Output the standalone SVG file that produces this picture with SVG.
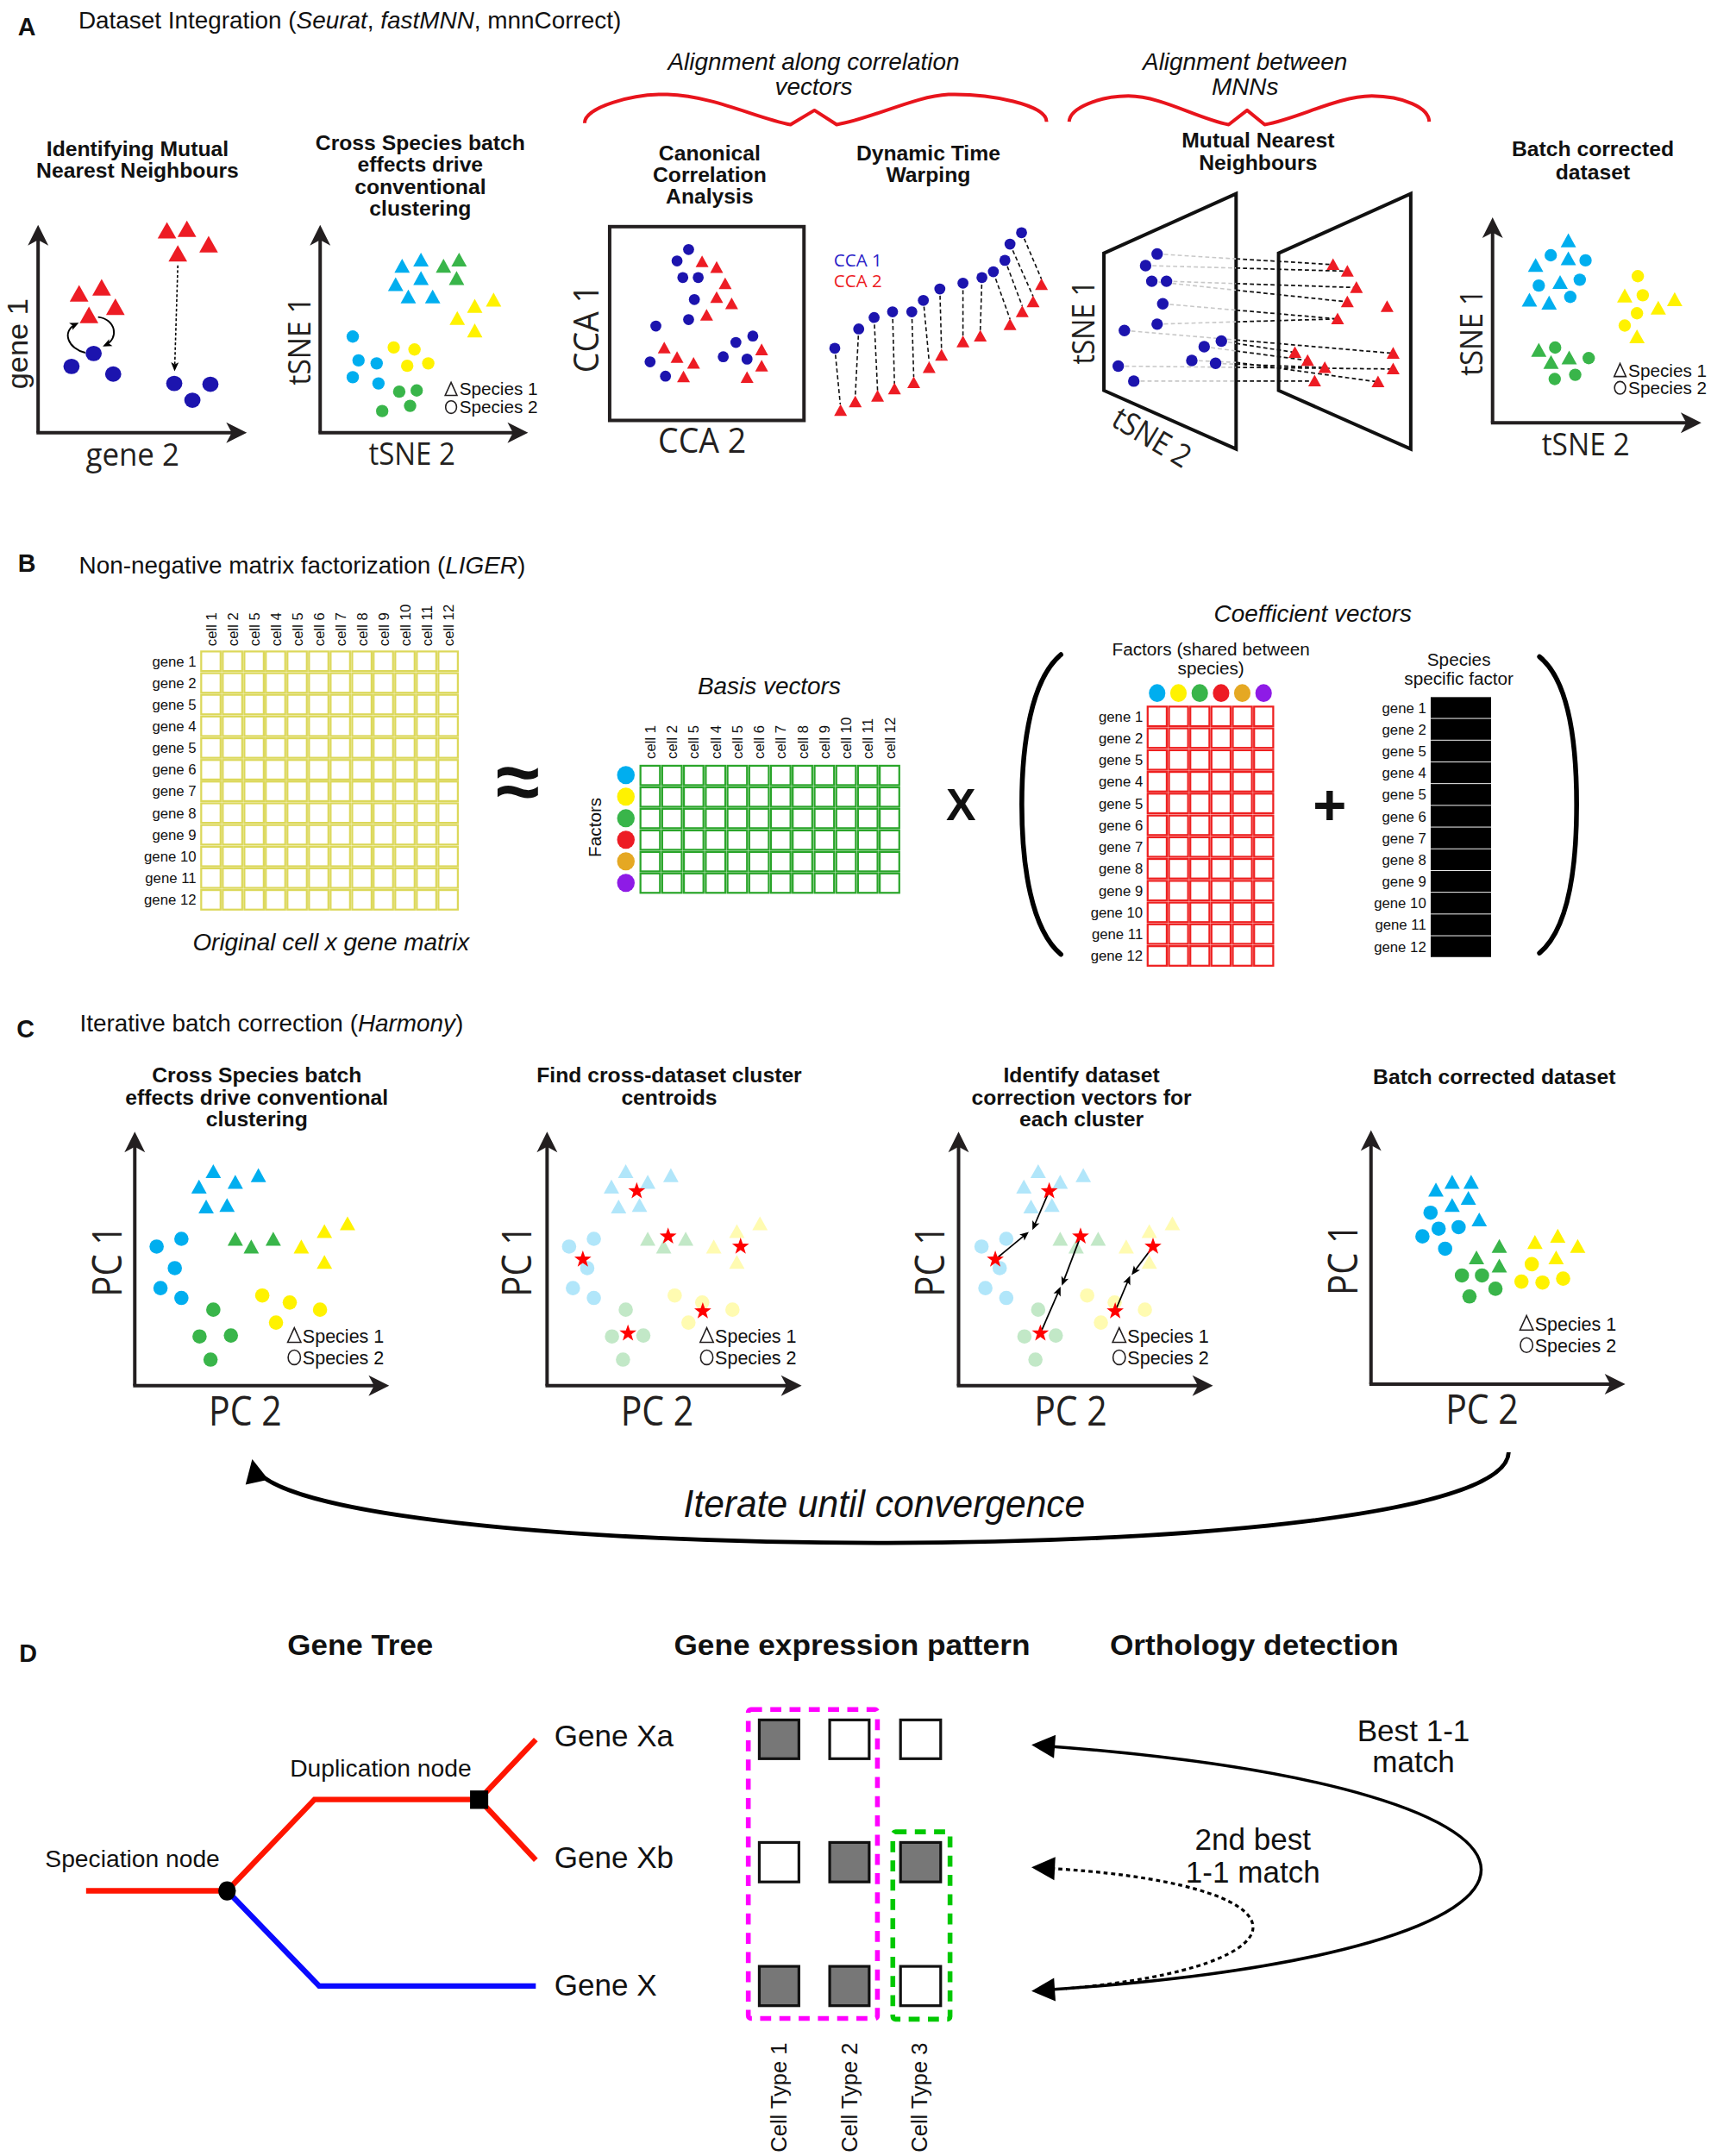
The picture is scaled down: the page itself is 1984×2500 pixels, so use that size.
<svg xmlns="http://www.w3.org/2000/svg" width="1984" height="2500" viewBox="0 0 1984 2500">
<style>
text{font-family:"Liberation Sans",Arial,sans-serif;fill:#111}
.lt{font-size:18px;font-weight:bold}
.hd{font-size:17.5px}
.it{font-style:italic}
.pt{font-size:15.5px;font-weight:bold;text-anchor:middle}
.ax{font-family:"Open Sans","Liberation Sans",sans-serif;font-size:23px;text-anchor:middle;fill:#231f20}
.pc{font-family:"Open Sans","Liberation Sans",sans-serif;font-size:30px;text-anchor:middle;fill:#231f20}
.lg{font-size:13.5px}
.sm{font-size:10.5px}
.md{font-size:13px}
.axis{stroke:#231f20;stroke-width:2.5;fill:none;marker-end:url(#ah)}
.cb{fill:#00aeef}.cg{fill:#39b54a}.cy{fill:#fff200}.cr{fill:#ed1c24}.cd{fill:#1c14ae}.co{fill:#e5a823}.cp{fill:#8e1be6}
.lgs{fill:none;stroke:#231f20;stroke-width:1}
.dtw{stroke:#111;stroke-width:1;stroke-dasharray:3 2;fill:none}
.gry{stroke:#c8c8c8;stroke-width:1;stroke-dasharray:3 2;fill:none}
.blk{stroke:#111;stroke-width:1.1;stroke-dasharray:3 2;fill:none}
.brace{fill:none;stroke:#e8141c;stroke-width:2.5;stroke-linejoin:round}
.ycell{fill:#fff;stroke:#dcd85a;stroke-width:1.4}
.gcell{fill:#fff;stroke:#2aa52a;stroke-width:1.4}
.rcell{fill:#fff;stroke:#ee2020;stroke-width:1.4}
.bcell{fill:#000}
.br{fill:none;stroke:#000;stroke-width:3.5;stroke-linecap:round}
.vec{stroke:#000;stroke-width:1.1;fill:none;marker-end:url(#sa)}
.box{stroke:#111;stroke-width:2}
.dh{font-size:21px;font-weight:bold;text-anchor:middle}
</style>
<defs>
<marker id="ah" markerUnits="userSpaceOnUse" viewBox="-12 -9 17 18" markerWidth="17" markerHeight="18" refX="0" refY="0" orient="auto"><path d="M4,0 L-11,-7.5 L-7,0 L-11,7.5Z" fill="#231f20"/></marker>
<marker id="sa" markerUnits="userSpaceOnUse" viewBox="-6 -4 9 8" markerWidth="9" markerHeight="8" refX="0" refY="0" orient="auto"><path d="M2,0 L-4.5,-2.8 L-3,0 L-4.5,2.8Z" fill="#000"/></marker>
<marker id="ba" markerUnits="userSpaceOnUse" viewBox="-16 -10 21 20" markerWidth="21" markerHeight="20" refX="0" refY="0" orient="auto-start-reverse"><path d="M3,0 L-14,-8.5 L-14,8.5Z" fill="#000"/></marker>
<path id="tA" d="M0,-6.5 L6.8,5.5 L-6.8,5.5Z"/>
<path id="tB" d="M0,-5.5 L5.6,4.6 L-5.6,4.6Z"/>
<path id="tC" d="M0,-4.6 L4.7,3.9 L-4.7,3.9Z"/>
<path id="st" d="M0,-6.5 L1.53,-2.1 L6.18,-2.01 L2.47,0.8 L3.82,5.26 L0,2.6 L-3.82,5.26 L-2.47,0.8 L-6.18,-2.01 L-1.53,-2.1Z" fill="#ff0000"/>
<g id="yrow">
<rect class="ycell" x="146.3" y="0" width="14.1" height="14.2"/><rect class="ycell" x="162" y="0" width="14.1" height="14.2"/><rect class="ycell" x="177.7" y="0" width="14.1" height="14.2"/><rect class="ycell" x="193.3" y="0" width="14.1" height="14.2"/><rect class="ycell" x="209" y="0" width="14.1" height="14.2"/><rect class="ycell" x="224.7" y="0" width="14.1" height="14.2"/><rect class="ycell" x="240.4" y="0" width="14.1" height="14.2"/><rect class="ycell" x="256.1" y="0" width="14.1" height="14.2"/><rect class="ycell" x="271.7" y="0" width="14.1" height="14.2"/><rect class="ycell" x="287.4" y="0" width="14.1" height="14.2"/><rect class="ycell" x="303.1" y="0" width="14.1" height="14.2"/><rect class="ycell" x="318.8" y="0" width="14.1" height="14.2"/>
</g>
<g id="grow">
<rect class="gcell" x="465.7" y="0" width="14.2" height="14.1"/><rect class="gcell" x="481.5" y="0" width="14.2" height="14.1"/><rect class="gcell" x="497.3" y="0" width="14.2" height="14.1"/><rect class="gcell" x="513.2" y="0" width="14.2" height="14.1"/><rect class="gcell" x="529" y="0" width="14.2" height="14.1"/><rect class="gcell" x="544.8" y="0" width="14.2" height="14.1"/><rect class="gcell" x="560.6" y="0" width="14.2" height="14.1"/><rect class="gcell" x="576.4" y="0" width="14.2" height="14.1"/><rect class="gcell" x="592.3" y="0" width="14.2" height="14.1"/><rect class="gcell" x="608.1" y="0" width="14.2" height="14.1"/><rect class="gcell" x="623.9" y="0" width="14.2" height="14.1"/><rect class="gcell" x="639.7" y="0" width="14.2" height="14.1"/>
</g>
<g id="rrow">
<rect class="rcell" x="834.5" y="0" width="13.9" height="14.2"/><rect class="rcell" x="850" y="0" width="13.9" height="14.2"/><rect class="rcell" x="865.5" y="0" width="13.9" height="14.2"/><rect class="rcell" x="880.9" y="0" width="13.9" height="14.2"/><rect class="rcell" x="896.4" y="0" width="13.9" height="14.2"/><rect class="rcell" x="911.9" y="0" width="13.9" height="14.2"/>
</g>
<g id="cpts">
<use href="#tB" class="cb" x="155.1" y="852"/><use href="#tB" class="cb" x="187.9" y="854.9"/><use href="#tB" class="cb" x="144.7" y="863.2"/><use href="#tB" class="cb" x="171.1" y="859.8"/><use href="#tB" class="cb" x="149.9" y="877.7"/><use href="#tB" class="cb" x="165.1" y="876.6"/>
<circle class="cb" cx="113.9" cy="906.4" r="5.2"/><circle class="cb" cx="131.9" cy="900.8" r="5.2"/><circle class="cb" cx="127.1" cy="922.1" r="5.2"/><circle class="cb" cx="116.7" cy="936.6" r="5.2"/><circle class="cb" cx="131.9" cy="943.8" r="5.2"/>
<use href="#tB" class="cg" x="171.1" y="901.2"/><use href="#tB" class="cg" x="182.7" y="906.8"/><use href="#tB" class="cg" x="198.7" y="901.2"/>
<use href="#tB" class="cy" x="219.1" y="906.8"/><use href="#tB" class="cy" x="235.9" y="895.6"/><use href="#tB" class="cy" x="252.7" y="890"/><use href="#tB" class="cy" x="235.9" y="918"/>
<circle class="cg" cx="155.1" cy="952.3" r="5.2"/><circle class="cg" cx="145.1" cy="971.8" r="5.2"/><circle class="cg" cx="167.9" cy="971.1" r="5.2"/><circle class="cg" cx="153.1" cy="988.6" r="5.2"/>
<circle class="cy" cx="190.7" cy="942" r="5.2"/><circle class="cy" cx="210.7" cy="947.1" r="5.2"/><circle class="cy" cx="232.7" cy="952.3" r="5.2"/><circle class="cy" cx="200.7" cy="961.7" r="5.2"/>
</g>
<g id="cleg">
<path class="lgs" d="M214,965.5 L218.8,976 L209.2,976Z"/><ellipse class="lgs" cx="214" cy="987" rx="4.5" ry="5.3"/>
<text class="lg" x="220" y="976.5">Species 1</text><text class="lg" x="220" y="992.2">Species 2</text>
</g>
</defs>

<g transform="scale(1.5947)">

<!-- ============ SECTION A ============ -->
<g id="sectionA">
<text class="lt" x="13" y="25.7">A</text>
<text class="hd" x="57" y="20.5">Dataset Integration (<tspan class="it">Seurat</tspan>, <tspan class="it">fastMNN</tspan>, mnnCorrect)</text>
<text class="hd it" x="591.6" y="51" text-anchor="middle">Alignment along correlation</text>
<text class="hd it" x="591.6" y="68.7" text-anchor="middle">vectors</text>
<path class="brace" d="M425.1,89.5 C425,78 460,68 485.3,68.7 C520,70 550,86 574.8,90.6 L592.2,80.2 L608.4,90.6 C635,86 665,70 689.6,68.7 C720,68 761,76 761,88.5"/>
<text class="hd it" x="905.3" y="51" text-anchor="middle">Alignment between</text>
<text class="hd it" x="905.3" y="68.7" text-anchor="middle">MNNs</text>
<path class="brace" d="M777.4,88.5 C778,78 800,70 820.5,69.8 C845,70 870,86 893.4,90.6 L906.8,80.2 L919.6,90.6 C945,86 972,70 997.5,69.8 C1020,70 1039,78 1039.2,88.5"/>
</g>

<g id="panelA1">
<text class="pt" x="100" y="113.6">Identifying Mutual</text>
<text class="pt" x="100" y="129.3">Nearest Neighbours</text>
<line class="axis" x1="27.7" y1="314.6" x2="27.7" y2="167.5"/>
<line class="axis" x1="26.5" y1="314.6" x2="175.5" y2="314.6"/>
<text transform="translate(13,250) rotate(-90)" y="7" text-anchor="middle" style="font-size:21px;fill:#231f20" textLength="66" lengthAdjust="spacingAndGlyphs">gene 1</text>
<text class="ax" x="96.4" y="338.5" textLength="68" lengthAdjust="spacingAndGlyphs">gene 2</text>
<use href="#tA" class="cr" x="57.5" y="213.8"/><use href="#tA" class="cr" x="73.9" y="209.4"/><use href="#tA" class="cr" x="83.9" y="223.5"/><use href="#tA" class="cr" x="64.7" y="229.5"/>
<use href="#tA" class="cr" x="121.4" y="167.9"/><use href="#tA" class="cr" x="135.9" y="166.8"/><use href="#tA" class="cr" x="151.7" y="178"/><use href="#tA" class="cr" x="129.3" y="184.7"/>
<ellipse class="cd" cx="68.1" cy="257" rx="5.9" ry="5.6"/><ellipse class="cd" cx="52" cy="266.4" rx="5.9" ry="5.6"/><ellipse class="cd" cx="82.3" cy="272" rx="5.9" ry="5.6"/>
<ellipse class="cd" cx="126.7" cy="278.8" rx="5.9" ry="5.6"/><ellipse class="cd" cx="153" cy="279.4" rx="5.9" ry="5.6"/><ellipse class="cd" cx="139.9" cy="291" rx="5.9" ry="5.6"/>
<path d="M62,256.5 C50,254 44,241 55.5,235.5" fill="none" stroke="#000" stroke-width="1.2" marker-end="url(#sa)"/>
<path d="M71.3,230.5 C84,232 87,246 76.5,251" fill="none" stroke="#000" stroke-width="1.2" marker-end="url(#sa)"/>
<path d="M129.3,193 L127,268" fill="none" stroke="#000" stroke-width="1" stroke-dasharray="2 1.5" marker-end="url(#sa)"/>
</g>

<g id="panelA2">
<text class="pt" x="305.6" y="109">Cross Species batch</text>
<text class="pt" x="305.6" y="125">effects drive</text>
<text class="pt" x="305.6" y="141">conventional</text>
<text class="pt" x="305.6" y="157">clustering</text>
<line class="axis" x1="232.8" y1="314.6" x2="232.8" y2="167.5"/>
<line class="axis" x1="231.6" y1="314.6" x2="380" y2="314.6"/>
<text class="ax" transform="translate(218,248) rotate(-90)" y="8" textLength="64" lengthAdjust="spacingAndGlyphs">tSNE 1</text>
<text class="ax" x="299.5" y="338" textLength="63" lengthAdjust="spacingAndGlyphs">tSNE 2</text>
<use href="#tB" class="cb" x="292.4" y="193.7"/><use href="#tB" class="cb" x="306.1" y="189.2"/><use href="#tB" class="cb" x="306.1" y="202.6"/><use href="#tB" class="cb" x="287.7" y="207.1"/><use href="#tB" class="cb" x="296.9" y="216"/><use href="#tB" class="cb" x="314.6" y="216"/>
<use href="#tB" class="cg" x="322.5" y="193.7"/><use href="#tB" class="cg" x="333.8" y="189.2"/><use href="#tB" class="cg" x="332" y="202.6"/>
<use href="#tB" class="cy" x="345.2" y="222.8"/><use href="#tB" class="cy" x="358.9" y="218.3"/><use href="#tB" class="cy" x="332.5" y="231.7"/><use href="#tB" class="cy" x="345.2" y="240.7"/>
<circle class="cb" cx="256.5" cy="244.7" r="4.5"/><circle class="cb" cx="260.7" cy="262" r="4.5"/><circle class="cb" cx="273.9" cy="264.2" r="4.5"/><circle class="cb" cx="256.5" cy="274.3" r="4.5"/><circle class="cb" cx="275.2" cy="278.8" r="4.5"/>
<circle class="cy" cx="286.3" cy="252.6" r="4.5"/><circle class="cy" cx="301.4" cy="254.1" r="4.5"/><circle class="cy" cx="296.1" cy="266" r="4.5"/><circle class="cy" cx="311.4" cy="264.2" r="4.5"/>
<circle class="cg" cx="290.3" cy="284.8" r="4.5"/><circle class="cg" cx="303" cy="283.9" r="4.5"/><circle class="cg" cx="298.2" cy="295.1" r="4.5"/><circle class="cg" cx="277.9" cy="298.9" r="4.5"/>
<path class="lgs" d="M328,278 L332.3,287.5 L323.7,287.5Z"/><ellipse class="lgs" cx="328" cy="296" rx="4" ry="4.6"/>
<text class="md" x="334" y="287.5">Species 1</text><text class="md" x="334" y="300.5">Species 2</text>
</g>

<g id="panelCCA">
<text class="pt" x="516" y="116.4">Canonical</text>
<text class="pt" x="516" y="132.4">Correlation</text>
<text class="pt" x="516" y="148.2">Analysis</text>
<rect x="443.3" y="164.8" width="141.3" height="140.9" fill="none" stroke="#231f20" stroke-width="2.5"/>
<text class="ax" style="font-size:25px" transform="translate(426.5,239) rotate(-90)" y="9" textLength="64" lengthAdjust="spacingAndGlyphs">CCA 1</text>
<text class="ax" style="font-size:25px" x="510.5" y="329" textLength="64" lengthAdjust="spacingAndGlyphs">CCA 2</text>
<circle class="cd" cx="500.7" cy="181.4" r="4"/><circle class="cd" cx="492.3" cy="189.7" r="4"/><circle class="cd" cx="496.5" cy="201.8" r="4"/><circle class="cd" cx="507.7" cy="201.8" r="4"/><circle class="cd" cx="504.9" cy="217.8" r="4"/><circle class="cd" cx="500.7" cy="232.4" r="4"/><circle class="cd" cx="476.9" cy="237.1" r="4"/><circle class="cd" cx="472.7" cy="263.1" r="4"/><circle class="cd" cx="483.9" cy="273.5" r="4"/><circle class="cd" cx="535.1" cy="249" r="4"/><circle class="cd" cx="547.4" cy="244.4" r="4"/><circle class="cd" cx="525.9" cy="259.4" r="4"/><circle class="cd" cx="543.2" cy="261.1" r="4"/>
<use href="#tC" class="cr" x="510.5" y="190.4"/><use href="#tC" class="cr" x="521.1" y="194.5"/><use href="#tC" class="cr" x="527.3" y="206.4"/><use href="#tC" class="cr" x="521.1" y="216.4"/><use href="#tC" class="cr" x="532" y="220.9"/><use href="#tC" class="cr" x="513.8" y="229.2"/><use href="#tC" class="cr" x="483" y="253.1"/><use href="#tC" class="cr" x="492.3" y="260"/><use href="#tC" class="cr" x="504.3" y="264.2"/><use href="#tC" class="cr" x="497" y="274.1"/><use href="#tC" class="cr" x="553.8" y="254.4"/><use href="#tC" class="cr" x="553.8" y="266.2"/><use href="#tC" class="cr" x="543.2" y="274.6"/>
</g>

<g id="panelDTW">
<text class="pt" x="675" y="116.4">Dynamic Time</text>
<text class="pt" x="675" y="132.4">Warping</text>
<text x="623.8" y="194" text-anchor="middle" style="font-family:'Open Sans',sans-serif;font-size:12.5px;fill:#2a22c8" textLength="35" lengthAdjust="spacingAndGlyphs">CCA 1</text>
<text x="623.8" y="208.6" text-anchor="middle" style="font-family:'Open Sans',sans-serif;font-size:12.5px;fill:#ed1c24" textLength="35" lengthAdjust="spacingAndGlyphs">CCA 2</text>
<path class="dtw" d="M607,253 L611,294 M624.4,239 L621.9,288 M635.6,231 L638.1,284 M649,227 L650.4,279 M663,227 L664.4,274 M671.4,218 L675.6,263 M683.4,210 L684.6,254 M700.2,206 L700.2,244.5 M714,202 L712.8,240 M722.3,198 L734.4,232 M730.7,189 L743.3,222.5 M734.4,177.5 L751.2,215.5 M742.8,169 L757.3,203"/>
<circle class="cd" cx="607" cy="253.2" r="4"/><circle class="cd" cx="624.4" cy="239.2" r="4"/><circle class="cd" cx="635.6" cy="230.9" r="4"/><circle class="cd" cx="649" cy="226.7" r="4"/><circle class="cd" cx="663" cy="226.7" r="4"/><circle class="cd" cx="671.4" cy="218.4" r="4"/><circle class="cd" cx="683.4" cy="210.1" r="4"/><circle class="cd" cx="700.2" cy="205.9" r="4"/><circle class="cd" cx="714" cy="201.8" r="4"/><circle class="cd" cx="722.3" cy="197.6" r="4"/><circle class="cd" cx="730.7" cy="189.3" r="4"/><circle class="cd" cx="734.4" cy="177.5" r="4"/><circle class="cd" cx="742.8" cy="169.2" r="4"/>
<use href="#tC" class="cr" x="611.2" y="298.5"/><use href="#tC" class="cr" x="621.9" y="292.2"/><use href="#tC" class="cr" x="638.1" y="288.1"/><use href="#tC" class="cr" x="650.4" y="282.9"/><use href="#tC" class="cr" x="664.4" y="278.3"/><use href="#tC" class="cr" x="675.6" y="267.3"/><use href="#tC" class="cr" x="684.6" y="258.3"/><use href="#tC" class="cr" x="700.2" y="248.6"/><use href="#tC" class="cr" x="712.8" y="244.4"/><use href="#tC" class="cr" x="734.4" y="236.1"/><use href="#tC" class="cr" x="743.3" y="226.7"/><use href="#tC" class="cr" x="751.2" y="219.5"/><use href="#tC" class="cr" x="757.3" y="207"/>
</g>

<g id="panelMNN">
<text class="pt" x="914.8" y="107.4">Mutual Nearest</text>
<text class="pt" x="914.8" y="123.6">Neighbours</text>
<path d="M802.7,184.1 L898.8,140.9 L898.8,326.5 L802.7,283.9Z" fill="none" stroke="#111" stroke-width="2.5"/>
<path d="M929.7,184.1 L1025.8,140.9 L1025.8,326.5 L929.7,283.9Z" fill="none" stroke="#111" stroke-width="2.5"/>
<path class="gry" d="M841.4,184.7 L898.8,188.2 M833,193.1 L898.8,194.9 M848.2,204.5 L898.8,206.2 M837.5,204.5 L898.8,211 M845.5,220.9 L898.8,225.5 M841.4,235.7 L898.8,234 M817.6,240.3 L898.8,247.2 M888.1,248 L898.8,249.7 M875.6,252.1 L898.8,255.2 M883.9,264.2 L898.8,264.8 M866.6,262.1 L898.8,263.5 M813.1,266.2 L898.8,267.1 M824.4,277.1 L898.8,277.1"/>
<path class="blk" d="M898.8,188.2 L969.3,192.4 M898.8,194.9 L979.7,197.2 M898.8,206.2 L986.3,209.1 M898.8,211 L979.7,219.5 M898.8,225.5 L972.6,231.9 M898.8,234 L972.6,231.9 M898.8,247.2 L1013,256.9 M898.8,249.7 L941.6,256.3 M898.8,255.2 L950.8,262.1 M898.8,264.8 L963.3,267.3 M898.8,263.5 L1002,277.7 M898.8,267.1 L1013,268.3 M898.8,277.1 L955.9,277.1"/>
<circle class="cd" cx="841.4" cy="184.7" r="4.2"/><circle class="cd" cx="833" cy="193.1" r="4.2"/><circle class="cd" cx="837.5" cy="204.5" r="4.2"/><circle class="cd" cx="848.2" cy="204.5" r="4.2"/><circle class="cd" cx="845.5" cy="220.9" r="4.2"/><circle class="cd" cx="841.4" cy="235.7" r="4.2"/><circle class="cd" cx="817.6" cy="240.3" r="4.2"/><circle class="cd" cx="888.1" cy="248" r="4.2"/><circle class="cd" cx="875.6" cy="252.1" r="4.2"/><circle class="cd" cx="866.6" cy="262.1" r="4.2"/><circle class="cd" cx="883.9" cy="264.2" r="4.2"/><circle class="cd" cx="813.1" cy="266.2" r="4.2"/><circle class="cd" cx="824.4" cy="277.1" r="4.2"/>
<use href="#tC" class="cr" x="969.3" y="192.4"/><use href="#tC" class="cr" x="979.7" y="197.2"/><use href="#tC" class="cr" x="986.3" y="209.1"/><use href="#tC" class="cr" x="979.7" y="219.5"/><use href="#tC" class="cr" x="1008.6" y="223"/><use href="#tC" class="cr" x="972.6" y="231.9"/><use href="#tC" class="cr" x="941.6" y="256.3"/><use href="#tC" class="cr" x="950.8" y="262.1"/><use href="#tC" class="cr" x="963.3" y="267.3"/><use href="#tC" class="cr" x="1013" y="256.9"/><use href="#tC" class="cr" x="1013" y="268.3"/><use href="#tC" class="cr" x="955.9" y="277.1"/><use href="#tC" class="cr" x="1002" y="277.7"/>
<text class="ax" transform="translate(787.9,234.5) rotate(-90)" y="8" textLength="61" lengthAdjust="spacingAndGlyphs">tSNE 1</text>
<text class="ax" transform="translate(837.6,318) rotate(31)" y="8" textLength="62" lengthAdjust="spacingAndGlyphs">tSNE 2</text>
</g>

<g id="panelA4">
<text class="pt" x="1158.2" y="113.7">Batch corrected</text>
<text class="pt" x="1158.2" y="130.3">dataset</text>
<line class="axis" x1="1085.3" y1="307.4" x2="1085.3" y2="162.1"/>
<line class="axis" x1="1084.1" y1="307.4" x2="1233.1" y2="307.4"/>
<text class="ax" transform="translate(1069.7,241.8) rotate(-90)" y="8" textLength="63" lengthAdjust="spacingAndGlyphs">tSNE 1</text>
<text class="ax" x="1153" y="331" textLength="64" lengthAdjust="spacingAndGlyphs">tSNE 2</text>
<use href="#tB" class="cb" x="1140.4" y="175.2"/><use href="#tB" class="cb" x="1140.4" y="188.3"/><use href="#tB" class="cb" x="1116.6" y="193.1"/><use href="#tB" class="cb" x="1134.4" y="205.5"/><use href="#tB" class="cb" x="1112.1" y="218.4"/><use href="#tB" class="cb" x="1126.4" y="220.5"/>
<circle class="cb" cx="1127.6" cy="185.6" r="4.5"/><circle class="cb" cx="1152.9" cy="189.3" r="4.5"/><circle class="cb" cx="1148.7" cy="203.4" r="4.5"/><circle class="cb" cx="1118.9" cy="207.6" r="4.5"/><circle class="cb" cx="1141.8" cy="215.9" r="4.5"/>
<circle class="cy" cx="1190.9" cy="200.8" r="4.5"/><circle class="cy" cx="1194.5" cy="214.7" r="4.5"/><circle class="cy" cx="1190.3" cy="227.8" r="4.5"/><circle class="cy" cx="1181.4" cy="236.7" r="4.5"/>
<use href="#tB" class="cy" x="1181.4" y="215.3"/><use href="#tB" class="cy" x="1205.8" y="224.2"/><use href="#tB" class="cy" x="1217.7" y="218"/><use href="#tB" class="cy" x="1190.3" y="245"/>
<use href="#tB" class="cg" x="1118.9" y="254.8"/><use href="#tB" class="cg" x="1127.8" y="263.7"/><use href="#tB" class="cg" x="1141" y="260.4"/>
<circle class="cg" cx="1130.8" cy="252.7" r="4.5"/><circle class="cg" cx="1155.2" cy="260.4" r="4.5"/><circle class="cg" cx="1130.5" cy="275.6" r="4.5"/><circle class="cg" cx="1145.4" cy="272.5" r="4.5"/>
<path class="lgs" d="M1178,264.3 L1182.3,273.8 L1173.7,273.8Z"/><ellipse class="lgs" cx="1178" cy="282" rx="4" ry="4.6"/>
<text class="md" x="1184" y="274">Species 1</text><text class="md" x="1184" y="286.5">Species 2</text>
</g>

<!-- ============ SECTION B ============ -->
<g id="sectionB">
<text class="lt" x="13" y="415.7">B</text>
<text class="hd" x="57.4" y="416.8">Non-negative matrix factorization (<tspan class="it">LIGER</tspan>)</text>
</g>

<g id="matrixOriginal">
<use href="#yrow" y="473.7"/><use href="#yrow" y="489.5"/><use href="#yrow" y="505.2"/><use href="#yrow" y="521"/><use href="#yrow" y="536.8"/><use href="#yrow" y="552.6"/><use href="#yrow" y="568.3"/><use href="#yrow" y="584.1"/><use href="#yrow" y="599.9"/><use href="#yrow" y="615.7"/><use href="#yrow" y="631.4"/><use href="#yrow" y="647.2"/>
<text class="sm" text-anchor="end"><tspan x="142.7" y="484.5">gene 1</tspan><tspan x="142.7" y="500.3">gene 2</tspan><tspan x="142.7" y="516">gene 5</tspan><tspan x="142.7" y="531.8">gene 4</tspan><tspan x="142.7" y="547.6">gene 5</tspan><tspan x="142.7" y="563.4">gene 6</tspan><tspan x="142.7" y="579.1">gene 7</tspan><tspan x="142.7" y="594.9">gene 8</tspan><tspan x="142.7" y="610.7">gene 9</tspan><tspan x="142.7" y="626.5">gene 10</tspan><tspan x="142.7" y="642.2">gene 11</tspan><tspan x="142.7" y="658">gene 12</tspan></text>
<text class="sm" transform="rotate(-90)"><tspan x="-469.8" y="157.1">cell 1</tspan><tspan x="-469.8" y="172.8">cell 2</tspan><tspan x="-469.8" y="188.5">cell 5</tspan><tspan x="-469.8" y="204.2">cell 4</tspan><tspan x="-469.8" y="219.9">cell 5</tspan><tspan x="-469.8" y="235.5">cell 6</tspan><tspan x="-469.8" y="251.2">cell 7</tspan><tspan x="-469.8" y="266.9">cell 8</tspan><tspan x="-469.8" y="282.6">cell 9</tspan><tspan x="-469.8" y="298.3">cell 10</tspan><tspan x="-469.8" y="314">cell 11</tspan><tspan x="-469.8" y="329.6">cell 12</tspan></text>
<text class="hd it" x="240.7" y="691" text-anchor="middle">Original cell x gene matrix</text>
</g>

<text id="approx" x="376.5" y="588" text-anchor="middle" style="font-size:58px;font-weight:bold">≈</text>

<g id="matrixBasis">
<text class="hd it" x="559.3" y="504.5" text-anchor="middle">Basis vectors</text>
<use href="#grow" y="556.8"/><use href="#grow" y="572.5"/><use href="#grow" y="588.1"/><use href="#grow" y="603.8"/><use href="#grow" y="619.5"/><use href="#grow" y="635.1"/>
<text class="sm" transform="rotate(-90)"><tspan x="-551.8" y="476.6">cell 1</tspan><tspan x="-551.8" y="492.4">cell 2</tspan><tspan x="-551.8" y="508.2">cell 5</tspan><tspan x="-551.8" y="524.1">cell 4</tspan><tspan x="-551.8" y="539.9">cell 5</tspan><tspan x="-551.8" y="555.7">cell 6</tspan><tspan x="-551.8" y="571.5">cell 7</tspan><tspan x="-551.8" y="587.3">cell 8</tspan><tspan x="-551.8" y="603.1">cell 9</tspan><tspan x="-551.8" y="619">cell 10</tspan><tspan x="-551.8" y="634.8">cell 11</tspan><tspan x="-551.8" y="650.6">cell 12</tspan></text>
<ellipse class="cb" cx="455.1" cy="563.6" rx="6.4" ry="6.6"/><ellipse class="cy" cx="455.1" cy="579.3" rx="6.4" ry="6.6"/><ellipse class="cg" cx="455.1" cy="595" rx="6.4" ry="6.6"/><ellipse class="cr" cx="455.1" cy="610.6" rx="6.4" ry="6.6"/><ellipse class="co" cx="455.1" cy="626.3" rx="6.4" ry="6.6"/><ellipse class="cp" cx="455.1" cy="642" rx="6.4" ry="6.6"/>
<text class="md" transform="translate(432.3,601.6) rotate(-90)" y="4.5" text-anchor="middle">Factors</text>
</g>

<text id="times" x="698.8" y="596.4" text-anchor="middle" style="font-size:32.5px;font-weight:bold">X</text>

<g id="coefficient">
<text class="hd it" x="954.6" y="452.3" text-anchor="middle">Coefficient vectors</text>
<path class="br" d="M771.4,476 C750,494 743,540 743,585 C743,630 750,676 771.4,694"/>
<path class="br" d="M1119.4,477.5 C1141,495 1146.4,540 1146.4,585 C1146.4,630 1141,675 1119.4,693"/>
<text class="md" x="880.5" y="476.7" text-anchor="middle">Factors (shared between</text>
<text class="md" x="880.5" y="490.3" text-anchor="middle">species)</text>
<ellipse class="cb" cx="841.4" cy="504" rx="6" ry="6.5"/><ellipse class="cy" cx="856.9" cy="504" rx="6" ry="6.5"/><ellipse class="cg" cx="872.4" cy="504" rx="6" ry="6.5"/><ellipse class="cr" cx="887.9" cy="504" rx="6" ry="6.5"/><ellipse class="co" cx="903.3" cy="504" rx="6" ry="6.5"/><ellipse class="cp" cx="918.8" cy="504" rx="6" ry="6.5"/>
<use href="#rrow" y="513.8"/><use href="#rrow" y="529.6"/><use href="#rrow" y="545.5"/><use href="#rrow" y="561.3"/><use href="#rrow" y="577.1"/><use href="#rrow" y="593"/><use href="#rrow" y="608.8"/><use href="#rrow" y="624.6"/><use href="#rrow" y="640.5"/><use href="#rrow" y="656.3"/><use href="#rrow" y="672.1"/><use href="#rrow" y="688"/>
<text class="sm" text-anchor="end"><tspan x="831" y="524.6">gene 1</tspan><tspan x="831" y="540.4">gene 2</tspan><tspan x="831" y="556.3">gene 5</tspan><tspan x="831" y="572.1">gene 4</tspan><tspan x="831" y="587.9">gene 5</tspan><tspan x="831" y="603.8">gene 6</tspan><tspan x="831" y="619.6">gene 7</tspan><tspan x="831" y="635.4">gene 8</tspan><tspan x="831" y="651.3">gene 9</tspan><tspan x="831" y="667.1">gene 10</tspan><tspan x="831" y="682.9">gene 11</tspan><tspan x="831" y="698.8">gene 12</tspan></text>
<text x="966.8" y="599.5" text-anchor="middle" style="font-size:42px;font-weight:bold">+</text>
<text class="md" x="1060.8" y="484" text-anchor="middle">Species</text>
<text class="md" x="1060.8" y="498" text-anchor="middle">specific factor</text>
<rect class="bcell" x="1040.3" y="506.9" width="43.9" height="15.2"/><rect class="bcell" x="1040.3" y="522.7" width="43.9" height="15.2"/><rect class="bcell" x="1040.3" y="538.5" width="43.9" height="15.2"/><rect class="bcell" x="1040.3" y="554.3" width="43.9" height="15.2"/><rect class="bcell" x="1040.3" y="570.1" width="43.9" height="15.2"/><rect class="bcell" x="1040.3" y="585.9" width="43.9" height="15.2"/><rect class="bcell" x="1040.3" y="601.7" width="43.9" height="15.2"/><rect class="bcell" x="1040.3" y="617.5" width="43.9" height="15.2"/><rect class="bcell" x="1040.3" y="633.3" width="43.9" height="15.2"/><rect class="bcell" x="1040.3" y="649.1" width="43.9" height="15.2"/><rect class="bcell" x="1040.3" y="664.9" width="43.9" height="15.2"/><rect class="bcell" x="1040.3" y="680.7" width="43.9" height="15.2"/>
<text class="sm" text-anchor="end"><tspan x="1037" y="518.3">gene 1</tspan><tspan x="1037" y="534.1">gene 2</tspan><tspan x="1037" y="549.9">gene 5</tspan><tspan x="1037" y="565.7">gene 4</tspan><tspan x="1037" y="581.5">gene 5</tspan><tspan x="1037" y="597.3">gene 6</tspan><tspan x="1037" y="613.1">gene 7</tspan><tspan x="1037" y="628.9">gene 8</tspan><tspan x="1037" y="644.7">gene 9</tspan><tspan x="1037" y="660.5">gene 10</tspan><tspan x="1037" y="676.3">gene 11</tspan><tspan x="1037" y="692.1">gene 12</tspan></text>
</g>

<!-- ============ SECTION C ============ -->
<g id="sectionC">
<text class="lt" x="12" y="754.6">C</text>
<text class="hd" x="58" y="750">Iterative batch correction (<tspan class="it">Harmony</tspan>)</text>
</g>

<g id="panelC1">
<text class="pt" x="186.7" y="787">Cross Species batch</text>
<text class="pt" x="186.7" y="803.2">effects drive conventional</text>
<text class="pt" x="186.7" y="819">clustering</text>
<line class="axis" x1="98" y1="1007.6" x2="98" y2="826.9"/>
<line class="axis" x1="96.8" y1="1007.6" x2="279" y2="1007.6"/>
<text class="pc" transform="translate(78,917) rotate(-90)" y="10.5" textLength="52" lengthAdjust="spacingAndGlyphs">PC 1</text>
<text class="pc" x="178.3" y="1036.5" textLength="53" lengthAdjust="spacingAndGlyphs">PC 2</text>
<use href="#cpts"/>
<use href="#cleg"/>
</g>

<g id="panelC2">
<text class="pt" x="486.6" y="787">Find cross-dataset cluster</text>
<text class="pt" x="486.6" y="803.2">centroids</text>
<line class="axis" x1="397.8" y1="1007.6" x2="397.8" y2="826.9"/>
<line class="axis" x1="396.6" y1="1007.6" x2="578.9" y2="1007.6"/>
<text class="pc" transform="translate(375.8,917) rotate(-90)" y="10.5" textLength="52" lengthAdjust="spacingAndGlyphs">PC 1</text>
<text class="pc" x="477.8" y="1036.5" textLength="53" lengthAdjust="spacingAndGlyphs">PC 2</text>
<use href="#cpts" x="299.9" opacity="0.3"/>
<use href="#st" x="463" y="866.1"/><use href="#st" x="485.8" y="899"/><use href="#st" x="538.5" y="906.4"/><use href="#st" x="423.8" y="915.8"/><use href="#st" x="511" y="953.4"/><use href="#st" x="456.6" y="969.5"/>
<use href="#cleg" x="299.9"/>
</g>

<g id="panelC3">
<text class="pt" x="786.4" y="787">Identify dataset</text>
<text class="pt" x="786.4" y="803.2">correction vectors for</text>
<text class="pt" x="786.4" y="819">each cluster</text>
<line class="axis" x1="697" y1="1007.6" x2="697" y2="826.9"/>
<line class="axis" x1="695.8" y1="1007.6" x2="878" y2="1007.6"/>
<text class="pc" transform="translate(676.2,917) rotate(-90)" y="10.5" textLength="52" lengthAdjust="spacingAndGlyphs">PC 1</text>
<text class="pc" x="778.5" y="1036.5" textLength="53" lengthAdjust="spacingAndGlyphs">PC 2</text>
<use href="#cpts" x="599.8" opacity="0.3"/>
<path class="vec" d="M723.7,915.8 L746.5,897"/><path class="vec" d="M762.9,866.1 L751.5,892.5"/>
<path class="vec" d="M785.7,899 L772.8,933"/><path class="vec" d="M756.5,969.5 L770.4,937.5"/>
<path class="vec" d="M838.4,906.4 L824,925.5"/><path class="vec" d="M810.9,953.4 L821,929.5"/>
<use href="#st" x="762.9" y="866.1"/><use href="#st" x="785.7" y="899"/><use href="#st" x="838.4" y="906.4"/><use href="#st" x="723.7" y="915.8"/><use href="#st" x="810.9" y="953.4"/><use href="#st" x="756.5" y="969.5"/>
<use href="#cleg" x="599.8"/>
</g>

<g id="panelC4">
<text class="pt" x="1086.6" y="788">Batch corrected dataset</text>
<line class="axis" x1="996.9" y1="1006.5" x2="996.9" y2="825.8"/>
<line class="axis" x1="995.7" y1="1006.5" x2="1177.8" y2="1006.5"/>
<text class="pc" transform="translate(976.4,915.8) rotate(-90)" y="10.5" textLength="52" lengthAdjust="spacingAndGlyphs">PC 1</text>
<text class="pc" x="1077.6" y="1035.5" textLength="53" lengthAdjust="spacingAndGlyphs">PC 2</text>
<use href="#tB" class="cb" x="1044.1" y="865.4"/><use href="#tB" class="cb" x="1055.9" y="859.8"/><use href="#tB" class="cb" x="1069.7" y="859.8"/><use href="#tB" class="cb" x="1055.9" y="876.6"/><use href="#tB" class="cb" x="1067.7" y="871.5"/><use href="#tB" class="cb" x="1075.6" y="887.1"/>
<circle class="cb" cx="1040.2" cy="881.8" r="5.2"/><circle class="cb" cx="1046.1" cy="893.4" r="5.2"/><circle class="cb" cx="1060.6" cy="892.3" r="5.2"/><circle class="cb" cx="1034.3" cy="899" r="5.2"/><circle class="cb" cx="1050.8" cy="908" r="5.2"/>
<use href="#tB" class="cg" x="1090.2" y="906.4"/><use href="#tB" class="cg" x="1073.6" y="914.7"/><use href="#tB" class="cg" x="1090.2" y="920.7"/>
<circle class="cg" cx="1063" cy="927.4" r="5.2"/><circle class="cg" cx="1077.6" cy="927.4" r="5.2"/><circle class="cg" cx="1087.4" cy="937.1" r="5.2"/><circle class="cg" cx="1068.5" cy="942.7" r="5.2"/>
<use href="#tB" class="cy" x="1116.1" y="903.5"/><use href="#tB" class="cy" x="1132.7" y="899"/><use href="#tB" class="cy" x="1147.2" y="906.4"/><use href="#tB" class="cy" x="1131.5" y="914.7"/>
<circle class="cy" cx="1113.8" cy="919.2" r="5.2"/><circle class="cy" cx="1106.3" cy="931.9" r="5.2"/><circle class="cy" cx="1121.6" cy="932.6" r="5.2"/><circle class="cy" cx="1136.6" cy="929.7" r="5.2"/>
<use href="#cleg" x="896" y="-8.9"/>
</g>

<!-- ============ SECTION D ============ -->
<g id="sectionD">
<text class="lt" x="14" y="1208.3">D</text>
<text class="dh" x="262" y="1203.5" textLength="106" lengthAdjust="spacingAndGlyphs">Gene Tree</text>
<text class="dh" x="619.5" y="1203.5" textLength="259" lengthAdjust="spacingAndGlyphs">Gene expression pattern</text>
<text class="dh" x="912" y="1203.5" textLength="210" lengthAdjust="spacingAndGlyphs">Orthology detection</text>
</g>

<g id="geneTree">
<path d="M62.6,1374.9 H165.1 L228.7,1308.5 H348.4 M348.4,1308.5 L389.6,1264.9 M348.4,1308.5 L389.6,1352.5" fill="none" stroke="#ff1500" stroke-width="4"/>
<path d="M165.1,1374.9 L232.1,1444.1 H389.6" fill="none" stroke="#0a0aff" stroke-width="4"/>
<ellipse cx="165.1" cy="1374.9" rx="6.4" ry="7" fill="#000"/>
<rect x="341.8" y="1301.9" width="13.2" height="13.4" fill="#000"/>
<text x="276.8" y="1292" text-anchor="middle" style="font-size:17px" textLength="132" lengthAdjust="spacingAndGlyphs">Duplication node</text>
<text x="96.3" y="1357.5" text-anchor="middle" style="font-size:17px" textLength="127" lengthAdjust="spacingAndGlyphs">Speciation node</text>
<text x="403" y="1270" style="font-size:22px">Gene Xa</text>
<text x="403" y="1358.3" style="font-size:22px">Gene Xb</text>
<text x="403" y="1451" style="font-size:22px">Gene X</text>
</g>

<g id="expression">
<rect class="box" x="552.1" y="1250.6" width="28.8" height="28.2" fill="#777"/>
<rect class="box" x="603.3" y="1250.6" width="28.7" height="28.2" fill="#fff"/>
<rect class="box" x="654.8" y="1250.6" width="29.2" height="28.2" fill="#fff"/>
<rect class="box" x="552.1" y="1339.7" width="28.8" height="28.7" fill="#fff"/>
<rect class="box" x="603.3" y="1339.7" width="28.7" height="28.7" fill="#777"/>
<rect class="box" x="654.8" y="1339.7" width="29.2" height="28.7" fill="#777"/>
<rect class="box" x="552.1" y="1429.8" width="28.8" height="28.6" fill="#777"/>
<rect class="box" x="603.3" y="1429.8" width="28.7" height="28.6" fill="#777"/>
<rect class="box" x="654.8" y="1429.8" width="29.2" height="28.6" fill="#fff"/>
<rect x="544.1" y="1243" width="93.9" height="224.7" rx="2" fill="none" stroke="#ff00ff" stroke-width="3.5" stroke-dasharray="8 6"/>
<rect x="649.2" y="1332" width="41.6" height="136.2" rx="2" fill="none" stroke="#00c800" stroke-width="3.5" stroke-dasharray="8 6"/>
<text transform="rotate(-90)" style="font-size:16px"><tspan x="-1565" y="571.9">Cell Type 1</tspan><tspan x="-1565" y="623.1">Cell Type 2</tspan><tspan x="-1565" y="673.8">Cell Type 3</tspan></text>
</g>

<g id="orthologyLabels">
<text x="1027.8" y="1265.8" text-anchor="middle" style="font-size:22px">Best 1-1</text>
<text x="1027.8" y="1288.8" text-anchor="middle" style="font-size:22px">match</text>
<text x="911" y="1345" text-anchor="middle" style="font-size:22px">2nd best</text>
<text x="911" y="1368.7" text-anchor="middle" style="font-size:22px">1-1 match</text>
</g>

<g id="connectors">
<path d="M1097,1056 C1094,1145 200,1140 184,1064" fill="none" stroke="#000" stroke-width="3" marker-end="url(#ba)"/>
<path d="M753,1269 C1185,1300 1185,1420 753,1447.5" fill="none" stroke="#000" stroke-width="2.2" marker-start="url(#ba)" marker-end="url(#ba)"/>
<path d="M753,1358 C960,1368 960,1430 775,1446" fill="none" stroke="#000" stroke-width="2" stroke-dasharray="3 2.5" marker-start="url(#ba)"/>
</g>
<text id="iterate" x="643" y="1103" text-anchor="middle" style="font-size:28px;font-style:italic" textLength="292" lengthAdjust="spacingAndGlyphs">Iterate until convergence</text>

</g>
</svg>
